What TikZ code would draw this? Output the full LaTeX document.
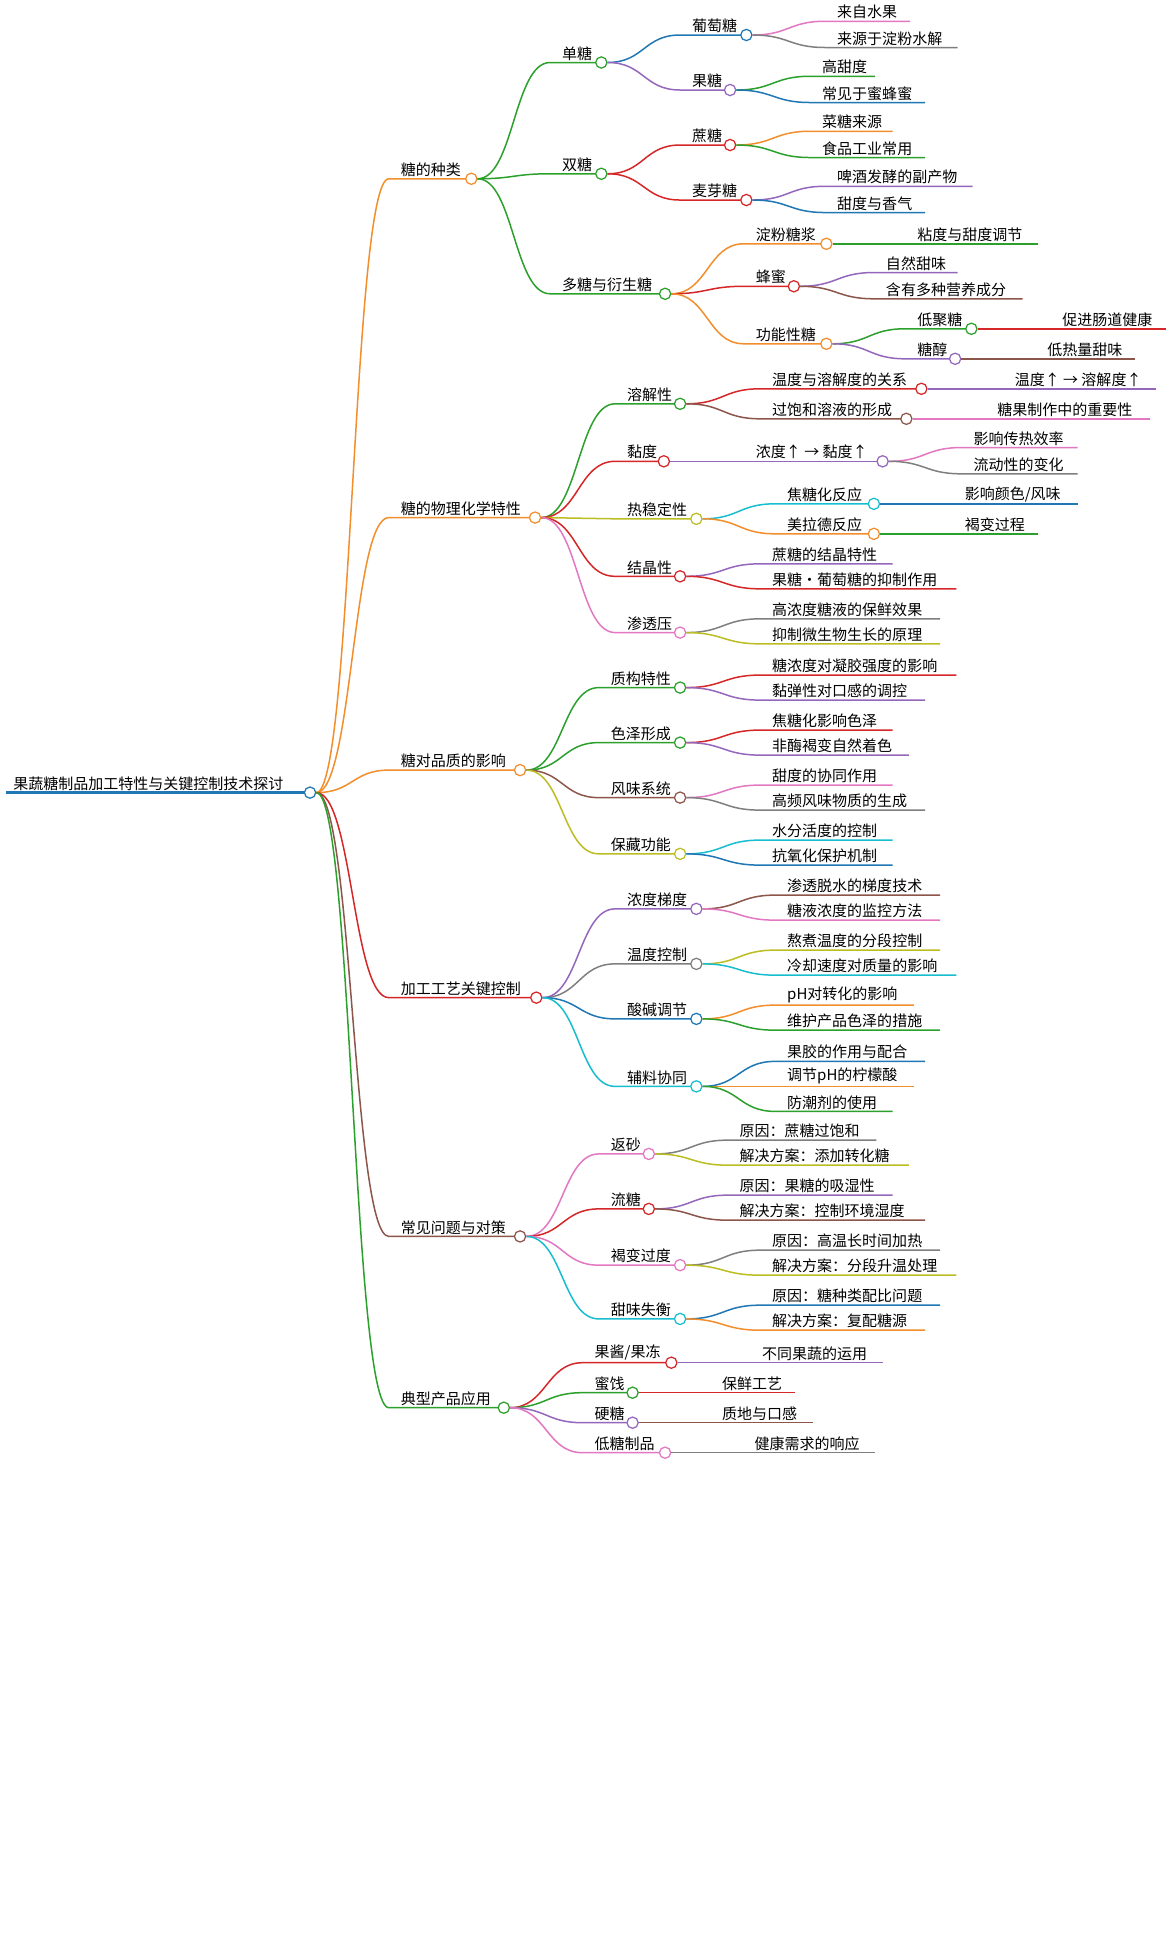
\documentclass[tikz,border=0pt]{standalone}
\usepackage{fontspec}
\setmainfont{Noto Sans CJK SC}
\usetikzlibrary{calc}
\definecolor{cO}{HTML}{F28E2B}\definecolor{cG}{HTML}{2CA02C}\definecolor{cB}{HTML}{1F77B4}
\definecolor{cP}{HTML}{9467BD}\definecolor{cR}{HTML}{D62728}\definecolor{cN}{HTML}{8C564B}
\definecolor{cK}{HTML}{E377C2}\definecolor{cA}{HTML}{7F7F7F}\definecolor{cL}{HTML}{BCBD22}
\definecolor{cC}{HTML}{17BECF}
\tikzset{dot/.style={circle,draw=#1,fill=white,line width=1,minimum size=9pt,inner sep=0pt},
 lab/.style={anchor=south west,inner sep=1.5pt,font=\fontsize{12}{12}\selectfont},
 lw/.style={line width=1.2pt}}
% branch with circle: parent,name,textx,circlex,y,color,text
\newcommand\mbr[7]{%
 \coordinate (#2s) at (#3-8,#5);
 \draw[#6,lw] let \p1=(#1.east),\p2=(#2s) in (\p1) .. controls (\x1/2+\x2/2,\y1) and (\x1/2+\x2/2,\y2) .. (\p2) -- (#4,#5);
 \node[dot=#6] (#2) at (#4,#5) {};
 \node[lab] (#2t) at (#3,#5) {#7};}
% leaf: parent,name,textx,endx,y,color,text
\newcommand\mlf[7]{%
 \coordinate (#2s) at (#3-8,#5);\coordinate (#2e) at (#4,#5);
 \draw[#6,lw] let \p1=(#1.east),\p2=(#2s) in (\p1) .. controls (\x1/2+\x2/2,\y1) and (\x1/2+\x2/2,\y2) .. (\p2) -- (#2e);
 \node[lab] (#2t) at (#3,#5) {#7};}
% straight leaf: parent,name,textx,endx,color,text
\newcommand\mst[6]{%
 \coordinate (#2e) at (#4,0);
 \draw[#5,lw] (#1.east) -- (#2e |- #1);
 \node[lab,anchor=south west] (#2t) at (#3,0 |- #1) {#6};}
\begin{document}
\begin{tikzpicture}[x=1pt,y=-1pt]
\useasboundingbox (0,0) rectangle (937,1563);
\fill[white] (0,0) rectangle (937,1563);
\coordinate (rs) at (5,634);
\draw[cB,line width=2.6pt] (rs) -- (248,634);
\node[dot=cB] (r) at (248,634) {};
\node[lab] (rt) at (9,634) {果蔬糖制品加工特性与关键控制技术探讨};
% level 1
\mbr{r}{a}{319}{377}{143}{cO}{糖的种类}
\mbr{r}{b}{319}{428}{414}{cO}{糖的物理化学特性}
\mbr{r}{c}{319}{416}{616}{cO}{糖对品质的影响}
\mbr{r}{d}{319}{429}{798}{cR}{加工工艺关键控制}
\mbr{r}{e}{319}{416}{989}{cN}{常见问题与对策}
\mbr{r}{f}{319}{403}{1126}{cG}{典型产品应用}
% a
\mbr{a}{a1}{448}{481}{50}{cG}{单糖}
\mbr{a}{a2}{448}{481}{139}{cG}{双糖}
\mbr{a}{a3}{448}{532}{235}{cG}{多糖与衍生糖}
\mbr{a1}{a11}{552}{597}{28}{cB}{葡萄糖}
\mbr{a1}{a12}{552}{584}{72}{cP}{果糖}
\mbr{a2}{a21}{552}{584}{116}{cR}{蔗糖}
\mbr{a2}{a22}{552}{597}{160}{cR}{麦芽糖}
\mbr{a3}{a31}{603}{661}{195}{cO}{淀粉糖浆}
\mbr{a3}{a32}{603}{635}{229}{cR}{蜂蜜}
\mbr{a3}{a33}{603}{661}{275}{cO}{功能性糖}
\mlf{a11}{l1}{668}{728}{17}{cK}{来自水果}
\mlf{a11}{l2}{668}{766}{38}{cA}{来源于淀粉水解}
\mlf{a12}{l3}{656}{700}{61}{cG}{高甜度}
\mlf{a12}{l4}{656}{740}{82}{cB}{常见于蜜蜂蜜}
\mlf{a21}{l5}{656}{714}{105}{cO}{菜糖来源}
\mlf{a21}{l6}{656}{740}{126}{cG}{食品工业常用}
\mlf{a22}{l7}{668}{778}{149}{cP}{啤酒发酵的副产物}
\mlf{a22}{l8}{668}{740}{170}{cB}{甜度与香气}
\mst{a31}{l9}{732}{830}{cG}{粘度与甜度调节}
\mlf{a32}{l10}{707}{766}{218}{cP}{自然甜味}
\mlf{a32}{l11}{707}{818}{239}{cN}{含有多种营养成分}
\mbr{a33}{a331}{732}{777}{263}{cG}{低聚糖}
\mbr{a33}{a332}{732}{764}{287}{cP}{糖醇}
\mst{a331}{l12}{848}{933}{cR}{促进肠道健康}
\mst{a332}{l13}{836}{908}{cN}{低热量甜味}
% b
\mbr{b}{b1}{500}{544}{323}{cG}{溶解性}
\mbr{b}{b2}{500}{531}{369}{cR}{黏度}
\mbr{b}{b3}{500}{557}{415}{cL}{热稳定性}
\mbr{b}{b4}{500}{544}{461}{cR}{结晶性}
\mbr{b}{b5}{500}{544}{506}{cK}{渗透压}
\mbr{b1}{b11}{616}{737}{311}{cR}{温度与溶解度的关系}
\mbr{b1}{b12}{616}{725}{335}{cN}{过饱和溶液的形成}
\mst{b11}{m1}{810}{925}{cP}{温度↑ → 溶解度↑}
\mst{b12}{m2}{796}{920}{cK}{糖果制作中的重要性}
\mbr{b2}{b21}{603}{706}{369}{cP}{浓度↑ → 黏度↑}
\mlf{b21}{m3}{777}{862}{358}{cK}{影响传热效率}
\mlf{b21}{m4}{777}{862}{379}{cA}{流动性的变化}
\mbr{b3}{b31}{628}{699}{403}{cC}{焦糖化反应}
\mbr{b3}{b32}{628}{699}{427}{cO}{美拉德反应}
\mst{b31}{m5}{770}{862}{cB}{影响颜色/风味}
\mst{b32}{m6}{770}{830}{cG}{褐变过程}
\mlf{b4}{m7}{616}{714}{451}{cP}{蔗糖的结晶特性}
\mlf{b4}{m8}{616}{765}{471}{cR}{果糖・葡萄糖的抑制作用}
\mlf{b5}{m9}{616}{752}{495}{cA}{高浓度糖液的保鲜效果}
\mlf{b5}{m10}{616}{752}{515}{cL}{抑制微生物生长的原理}
% c
\mbr{c}{c1}{487}{544}{550}{cG}{质构特性}
\mbr{c}{c2}{487}{544}{594}{cG}{色泽形成}
\mbr{c}{c3}{487}{544}{638}{cN}{风味系统}
\mbr{c}{c4}{487}{544}{683}{cL}{保藏功能}
\mlf{c1}{n1}{616}{765}{540}{cR}{糖浓度对凝胶强度的影响}
\mlf{c1}{n2}{616}{740}{560}{cP}{黏弹性对口感的调控}
\mlf{c2}{n3}{616}{714}{584}{cR}{焦糖化影响色泽}
\mlf{c2}{n4}{616}{727}{604}{cP}{非酶褐变自然着色}
\mlf{c3}{n5}{616}{714}{628}{cK}{甜度的协同作用}
\mlf{c3}{n6}{616}{740}{648}{cA}{高频风味物质的生成}
\mlf{c4}{n7}{616}{714}{672}{cC}{水分活度的控制}
\mlf{c4}{n8}{616}{714}{692}{cB}{抗氧化保护机制}
% d
\mbr{d}{d1}{500}{557}{727}{cP}{浓度梯度}
\mbr{d}{d2}{500}{557}{771}{cA}{温度控制}
\mbr{d}{d3}{500}{557}{815}{cB}{酸碱调节}
\mbr{d}{d4}{500}{557}{869}{cC}{辅料协同}
\mlf{d1}{o1}{628}{752}{716}{cN}{渗透脱水的梯度技术}
\mlf{d1}{o2}{628}{752}{736}{cK}{糖液浓度的监控方法}
\mlf{d2}{o3}{628}{752}{760}{cL}{熬煮温度的分段控制}
\mlf{d2}{o4}{628}{765}{780}{cC}{冷却速度对质量的影响}
\mlf{d3}{o5}{628}{731}{804}{cO}{pH对转化的影响}
\mlf{d3}{o6}{628}{752}{824}{cG}{维护产品色泽的措施}
\mlf{d4}{o7}{628}{740}{849}{cB}{果胶的作用与配合}
\mlf{d4}{o8}{628}{731}{869}{cO}{调节pH的柠檬酸}
\mlf{d4}{o9}{628}{714}{889}{cG}{防潮剂的使用}
% e
\mbr{e}{e1}{487}{519}{923}{cK}{返砂}
\mbr{e}{e2}{487}{519}{967}{cR}{流糖}
\mbr{e}{e3}{487}{544}{1012}{cK}{褐变过度}
\mbr{e}{e4}{487}{544}{1055}{cC}{甜味失衡}
\mlf{e1}{p1}{590}{701}{912}{cA}{原因：蔗糖过饱和}
\mlf{e1}{p2}{590}{727}{932}{cL}{解决方案：添加转化糖}
\mlf{e2}{p3}{590}{714}{956}{cP}{原因：果糖的吸湿性}
\mlf{e2}{p4}{590}{740}{976}{cN}{解决方案：控制环境湿度}
\mlf{e3}{p5}{616}{752}{1000}{cA}{原因：高温长时间加热}
\mlf{e3}{p6}{616}{765}{1020}{cL}{解决方案：分段升温处理}
\mlf{e4}{p7}{616}{752}{1044}{cB}{原因：糖种类配比问题}
\mlf{e4}{p8}{616}{740}{1064}{cO}{解决方案：复配糖源}
% f
\mbr{f}{f1}{474}{537}{1090}{cR}{果酱/果冻}
\mbr{f}{f2}{474}{506}{1114}{cG}{蜜饯}
\mbr{f}{f3}{474}{506}{1138}{cP}{硬糖}
\mbr{f}{f4}{474}{532}{1162}{cK}{低糖制品}
\mst{f1}{q1}{608}{706}{cP}{不同果蔬的运用}
\mst{f2}{q2}{576}{636}{cR}{保鲜工艺}
\mst{f3}{q3}{576}{650}{cN}{质地与口感}
\mst{f4}{q4}{602}{700}{cA}{健康需求的响应}
\end{tikzpicture}
\end{document}
